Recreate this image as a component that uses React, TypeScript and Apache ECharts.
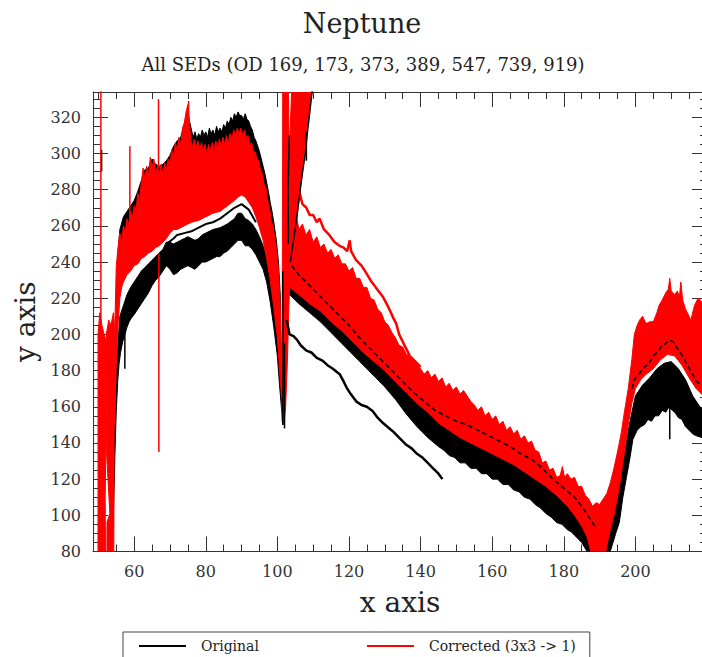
import React, { useEffect, useRef } from "react";
import * as echarts from "echarts";

const TITLE = "Neptune";
const SUBTITLE = "All SEDs (OD 169, 173, 373, 389, 547, 739, 919)";
const NAME_ORIG = "Original";
const NAME_CORR = "Corrected (3x3 -> 1)";
const X_RANGE = [48.5, 220];
const Y_RANGE = [80, 334];
const FONT = "DejaVu Serif";
const BLACK = "#000000";
const RED = "#ff0000";

// ---------- Segment A (blue band, ~50-101) ----------
const redEarly1 = [[49.9,79],[49.9,200],[50.4,212],[51,205],[51.6,200],[52.2,196],[52.1,138],[51.9,110],[52.0,79]];
const redEarly2 = [[52.2,200],[52.2,138],[53.2,101],[52.4,96],[52.4,79],[54.3,79],[54.4,150],[54.6,200],[54.2,212],[53.5,205],[52.9,208]];

const redA_top = [[54.6,205],[55,238],[55.5,248],[56,256],[56.5,251],[57,260],[57.5,257],[58,264],[58.5,261],[59,268],[59.5,265],[60,271],[60.5,268],[61,278],[61.5,275],[62,284],[62.5,292],[63,286],[63.5,293],[64,288],[64.5,298],[65,292],[65.5,297],[66,289],[66.5,293],[67,288],[67.5,294],[68,289],[68.5,295],[69,291],[69.5,297],[70,294],[70.5,302],[71,298],[71.5,306],[72,302],[72.5,309],[73,305],[73.5,314],[74,317],[74.5,323],[75,327],[75.4,319],[75.8,307],[76.3,304],[76.8,308],[77.3,303],[77.8,307],[78.3,302],[78.8,306],[79.3,301],[79.8,305],[80.3,300],[80.8,305],[81.3,302],[81.8,306],[82.3,302],[82.8,307],[83.3,303],[83.8,308],[84.3,304],[84.8,309],[85.3,305],[85.8,310],[86.3,306],[86.8,311],[87.3,308],[87.8,313],[88.3,310],[88.8,314],[89.3,311],[89.8,314],[90.3,310],[90.8,313],[91.3,309],[91.8,310],[92.3,305],[92.8,306],[93.3,301],[93.8,301],[94.3,297],[94.8,296],[95.3,291],[95.8,289],[96.3,283],[96.8,281],[97.3,274],[97.8,270],[98.3,263],[98.8,260],[99.3,253],[99.7,248],[100.3,236],[100.8,215],[101.2,190]];
const redA_bot = [[54.6,150],[55,185],[55.5,205],[56,220],[56.5,226],[57,229],[58,233],[59,235],[60,238],[61,239],[62,242],[63,243],[64,245],[65,246],[66,248],[67,249],[68,251],[69,253],[70,256],[71,258],[72,258],[73,259],[74,260],[75,261],[76,262],[78,263],[80,265],[82,267],[84,268],[86,271],[88,274],[89,276],[90,277],[91,276],[92,273],[93,270],[94,265],[95,259],[96,252],[97,242],[98,230],[99,215],[100,198],[100.6,180],[101.2,165]];

const blackAlow_top = [[54.2,110],[54.6,150],[55,178],[55.5,196],[56,210],[57,216],[58,222],[59,226],[60,229],[61,232],[62,235],[63,237],[64,239],[65,241],[66,243],[67,245],[68,247],[69,251],[70,251],[71,250],[72,251],[73,252],[74,253],[75,254],[76,253],[77,252],[78,253],[79,255],[80,256],[82,258],[84,259],[86,261],[88,264],[89,267],[90,267],[91,264],[92,263],[93,261],[94,258],[95,254],[96,249],[97,243],[98,233],[99,220],[100,204],[100.6,188],[101.2,172]];
const blackAlow_bot = [[53.8,79],[54.2,100],[54.6,132],[55,158],[55.4,174],[55.8,184],[56.2,190],[56.8,196],[57.4,200],[58,204],[58.6,207],[59.2,209],[60,211],[61,214],[62,217],[63,220],[64,223],[65,227],[66,230],[67,232],[68,235],[69,238],[70,236],[71,233],[72,234],[73,236],[74,237],[75,238],[76,237],[77,236],[78,238],[79,240],[80,240],[81,241],[82,242],[83,243],[84,243],[85,245],[86,246],[87,248],[88,250],[89,252],[90,252],[91,249],[92,249],[93,247],[94,244],[95,240],[96,236],[97,229],[98,218],[99,204],[100,188],[100.6,172],[101.2,158],[101.6,150]];
const blackAmid = [[69,250],[71,253],[72,255],[74,256],[76,257],[78,259],[80,261],[82,262],[84,264],[86,267],[88,270],[90,272],[92,269],[94,262]];

const blackAup_top = [[55.5,246],[56,258],[57,265],[58,268],[59,271],[60,274],[61,279],[62,285],[63,291],[64,292],[65,297],[66,294],[67,293],[68,294],[69,296],[70,299],[71,304],[72,307],[73,309],[74,316],[75,322],[76,313],[76.5,309],[77,312],[77.5,308],[78,311],[78.5,309],[79,313],[79.5,310],[80,312],[80.5,309],[81,314],[81.5,311],[82,313],[82.5,310],[83,315],[83.5,312],[84,314],[84.5,312],[85,316],[85.5,314],[86,318],[86.5,316],[87,320],[87.5,318],[88,322],[88.5,320],[89,323],[89.5,321],[90,321],[90.5,319],[91,322],[91.5,319],[92,318],[92.5,315],[93,313],[93.5,309],[94,307],[94.5,304],[95,301],[95.5,297],[96,293],[96.5,289],[97,284],[97.5,279],[98,273],[98.5,268],[99,262],[99.7,252],[100.3,240],[100.8,222]];
const blackAup_bot = [[55.5,230],[60,250],[70,265],[80,280],[90,285],[95,270],[100.8,210]];

// ---------- Segment B (red band, ~101-220) ----------
const redArm = [[101.3,152],[101.4,250],[101.5,345],[103.0,345],[103.3,300],[104.2,345],[110.4,345],[109.6,334],[108.9,322],[108.2,312],[107.4,298],[106.6,283],[105.8,270],[105,258],[104.2,248],[103.6,238],[103.2,215],[102.8,185],[102.3,160],[101.8,150]];

const blackB_top = [[103.4,236],[105,232],[107,227],[110,221],[113,215],[116,209],[119,202],[122,196],[125,190],[128,184],[131,178],[134,172],[137,166],[140,161],[143,157],[146,154],[149,151],[152,149],[155,147],[158,143],[161,140],[164,137],[167,133],[170,130],[173,126],[176,121],[179,116],[182,110],[185,103],[187,96],[189,90],[191,90],[193,98],[195,113],[197,135],[198.5,152],[200,166],[202,172],[204,176],[206,181],[208,184],[210,185],[212,181],[214,175],[216,166],[218,160],[220,157]];
const blackB_bot = [[103.4,222],[106,217],[109,212],[112,207],[115,201],[118,195],[121,189],[124,183],[127,177],[130,171],[133,164],[136,156],[139,149],[142,143],[145,138],[146.5,136],[148,133],[149.5,132],[151,129],[152.5,129],[154,126],[155.5,126],[157,123],[158.5,123],[160,120],[161.5,120],[163,117],[164.5,117],[166,114],[167.5,113],[169,110],[170.5,109],[172,106],[173.5,104],[175,101],[176.5,99],[178,96],[179.5,95],[181,92],[182,91],[183,89],[184,87],[185,85],[186.5,80],[187,79],[192.8,79],[193.6,84],[194.5,90],[195.5,96],[196.5,110],[197.5,121],[198.5,132],[199.3,142],[200.5,147],[201.5,149],[202.5,150],[203.5,153],[204.5,152],[205.5,155],[206.5,155],[207.5,158],[208.5,157],[209.4,160],[210.3,158],[211,157],[212,154],[213,153],[214,149],[215,147],[216,145],[217,144],[218.5,143],[220,142]];

const redB_top = [[103.4,262],[104,270],[104.6,262],[105.3,266],[106,258],[107,261],[108,255],[109,258],[110,251],[111,254],[112,248],[113,250],[114,245],[115,247],[116,242],[117,244],[118,239],[119,239],[120,235],[121,237],[122,231],[123,231],[124,226],[125,226],[126,220],[127,219],[128,214],[129,212],[130,207],[131,205],[132,201],[133,198],[134,194],[135,193],[136,189],[137,188],[138,185],[139,184],[140,181],[141,178],[142,180],[143,176],[144,178],[145,174],[146,176],[147,171],[148,173],[149,169],[150,171],[151,167],[152,169],[153,166],[154,163],[155,161],[156,158],[157,160],[158,155],[159,157],[160,153],[161,155],[162,150],[163,152],[164,147],[165,149],[166,145],[167,147],[168,142],[169,144],[170,140],[171,141],[172,136],[173,135],[174,129],[175,130],[176,125],[177,126],[178,121],[179,122],[179.6,127],[180.2,121],[181,123],[182,120],[183,121],[184,116],[185,116],[186,111],[187,109],[188,105],[189,107],[190,106],[191,109],[192,112],[193,118],[194,126],[195,135],[196,145],[197,158],[198,170],[199,186],[199.7,200],[200.5,205],[201.2,208],[202,210],[203,206],[204,207],[205,207],[206,212],[206.6,216],[207.5,219],[208.5,223],[209.2,225],[209.6,231],[210,224],[211,222],[211.7,224],[212.3,221],[212.7,229],[213.2,219],[214,214],[215,210],[215.5,208],[216.5,216],[217.5,220],[218.5,218],[219.5,221],[220,219]];
const redB_bot = [[103.4,226],[106,222],[109,217],[112,213],[115,207],[118,202],[121,196],[124,190],[127,185],[130,180],[133,174],[136,168],[139,162],[142,157],[145,151],[148,147],[151,143],[154,140],[157,137],[160,134],[163,131],[166,128],[169,124],[172,120],[175,116],[178,111],[181,105],[183,100],[185,94],[186.5,88],[187.5,80],[191.7,80],[192.3,86],[193,92],[194,100],[195,110],[196,122],[197,136],[198,150],[199,162],[200,170],[201.5,175],[203,178],[205,181],[207,186],[209,189],[211,188],[213,183],[215,176],[217,170],[219,166],[220,164]];

const redUpperLine = [[104.5,283],[105.3,277],[106,280],[107,272],[108.1,270],[109,266],[110,266],[111,262],[111.8,264],[113,258],[114.5,255],[116,251],[117.4,249],[118.5,248],[119.5,246],[120.2,252],[120.6,246],[122,241],[123.5,238],[124.8,234],[126,230],[127.5,226],[129.4,221],[130.5,217],[131.5,213],[132.4,209],[133.2,206],[134,200],[135,196],[136,192],[137,188],[138,186],[140,182]];

const blackShortLine = [[102.6,208],[103.4,200],[104.5,199],[105.5,197],[106.5,194],[108.1,191],[109.5,190],[111,187],[112.6,185.5],[114,183],[115.5,181],[117.4,178],[118.5,174],[119.5,170],[120.5,167],[122,163],[123.5,161],[125,160],[126.6,157.7],[128,154],[129.5,151],[131.3,148],[132.5,146],[134,143],[136,139],[137.5,137],[139,134],[140.6,131.8],[142,129],[143.5,126],[145,123],[146.1,120]];
const blackInRedLine = [[104,238],[106,233],[108,229],[111,223],[114,217],[117,211],[120,205],[123,198],[126,192],[129,186],[132,180],[135,174],[138,168],[141,163],[144,158],[147,155],[150,152],[153,150],[156,147],[159,144],[162,141],[165,138],[168,134],[171,131],[174,126],[177,120],[180,115],[183,110],[185,105],[187,99],[189,93]];
const blackPeakLine = [[199,170],[200,176],[201,178],[202,181],[203.8,184],[205,188],[206.5,191],[207.5,194],[208.5,195],[209.4,197],[210.5,196],[211.5,193],[212.2,191],[213.5,187],[214.5,183],[216,178],[217,174],[218.5,172],[220,170]];
const blackArmEdge = [[103.6,240],[104.5,252],[105.5,266],[106.5,282],[107.2,292],[107.8,300],[108.4,312],[109,322],[109.8,336]];
const blackColumnEdge = [[101.5,150],[101.6,190],[101.5,235]];
const blackGapEdge = [[103.1,250],[103.0,280],[103.3,310]];

// spikes: [x, low, high]
const redSpikes = [[50.7,195,340],[58.8,262,304],[66.9,135,245],[66.8,292,330],[75.2,318,329]];
const blackSpikes = [[50.9,290,302],[57.4,181,212],[102,148,195],[108.1,296,312],[209.6,142,160]];

function polySeries(name: string, color: string, pts: number[][], stroke = true) {
  return {
    type: "custom",
    name,
    clip: true,
    silent: true,
    itemStyle: { color },
    encode: { x: 0, y: 1 },
    data: pts,
    renderItem: (params: any, api: any) => {
      if (params.dataIndex !== 0) return null;
      const points = pts.map((p) => api.coord(p));
      return {
        type: "polygon",
        shape: { points },
        style: { fill: color, stroke: stroke ? color : "none", lineWidth: 1 },
      };
    },
  };
}
function band(name: string, color: string, top: number[][], bot: number[][]) {
  return polySeries(name, color, [...top, ...bot.slice().reverse()]);
}
function lineSeries(name: string, color: string, data: number[][], width = 2, dashed = false) {
  return {
    type: "line",
    name,
    data,
    symbol: "none",
    showSymbol: false,
    clip: true,
    silent: true,
    itemStyle: { color },
    lineStyle: { color, width, type: dashed ? [5, 3] : "solid" },
  };
}
function spikeSeries(name: string, color: string, spikes: number[][]) {
  return spikes.map((s) => lineSeries(name, color, [[s[0], s[1]], [s[0], s[2]]], 1.5));
}

const axisColor = "#333333";
const commonX = {
  type: "value",
  min: X_RANGE[0],
  max: X_RANGE[1],
  splitNumber: 8,
  splitLine: { show: false },
  axisLine: { show: true, onZero: false, lineStyle: { color: axisColor, width: 1 } },
  axisTick: { show: true, inside: true, length: 15, lineStyle: { color: axisColor } },
  minorTick: { show: true, splitNumber: 4, length: 7, lineStyle: { color: axisColor } },
};
const commonY = {
  type: "value",
  min: Y_RANGE[0],
  max: Y_RANGE[1],
  interval: 20,
  splitLine: { show: false },
  axisLine: { show: true, onZero: false, lineStyle: { color: axisColor, width: 1 } },
  axisTick: { show: true, inside: true, length: 15, lineStyle: { color: axisColor } },
  minorTick: { show: true, splitNumber: 4, length: 7, lineStyle: { color: axisColor } },
};

export default function App() {
  const ref = useRef<HTMLDivElement>(null);
  useEffect(() => {
    const chart = echarts.init(ref.current!, null, { renderer: "svg" });
    const series: any[] = [
      band(NAME_ORIG, BLACK, blackAlow_top, blackAlow_bot),
      band(NAME_ORIG, BLACK, blackAup_top, blackAup_bot),
      band(NAME_ORIG, BLACK, blackB_top, blackB_bot),
      lineSeries(NAME_ORIG, BLACK, blackAmid, 2),
      polySeries(NAME_CORR, RED, redEarly1),
      polySeries(NAME_CORR, RED, redEarly2),
      band(NAME_CORR, RED, redA_top, redA_bot),
      polySeries(NAME_CORR, RED, redArm),
      band(NAME_CORR, RED, redB_top, redB_bot),
      lineSeries(NAME_CORR, RED, redUpperLine, 2.5),
      lineSeries(NAME_ORIG, BLACK, blackShortLine, 2.5),
      lineSeries(NAME_ORIG, BLACK, blackInRedLine, 1.5, true),
      lineSeries(NAME_ORIG, BLACK, blackPeakLine, 1.5, true),
      lineSeries(NAME_ORIG, BLACK, blackArmEdge, 1.5),
      lineSeries(NAME_ORIG, BLACK, blackColumnEdge, 1.5),
      lineSeries(NAME_ORIG, BLACK, blackGapEdge, 1.5),
      ...spikeSeries(NAME_ORIG, BLACK, blackSpikes),
      ...spikeSeries(NAME_CORR, RED, redSpikes),
    ];
    chart.setOption({
      animation: false,
      backgroundColor: "#ffffff",
      title: [
        {
          text: TITLE,
          left: 357,
          textAlign: "center",
          top: 5,
          textStyle: { fontFamily: FONT, fontSize: 27, fontWeight: "normal", color: "#222" },
        },
        {
          text: SUBTITLE,
          left: 358,
          textAlign: "center",
          top: 50,
          textStyle: { fontFamily: FONT, fontSize: 18, fontWeight: "normal", color: "#222" },
        },
      ],
      grid: { left: 93, top: 92, right: -5, bottom: 105.5, containLabel: false, outerBoundsMode: "none" },
      legend: {
        left: 123,
        top: 632,
        orient: "horizontal",
        selectedMode: false,
        borderColor: "#444",
        borderWidth: 1,
        borderRadius: 0,
        padding: [7, 14, 12, 16],
        itemWidth: 47,
        itemHeight: 2,
        itemGap: 108,
        textStyle: { fontFamily: FONT, fontSize: 14, color: "#222", padding: [0, 0, 0, 10] },
        data: [
          { name: NAME_ORIG, icon: "rect", itemStyle: { color: BLACK } },
          { name: NAME_CORR, icon: "rect", itemStyle: { color: RED } },
        ],
      },
      xAxis: [
        {
          ...commonX,
          position: "bottom",
          axisLabel: { showMinLabel: false, showMaxLabel: false, fontFamily: FONT, fontSize: 16, color: "#333", margin: 12 },
          name: "x axis",
          nameLocation: "middle",
          nameGap: 37,
          nameTextStyle: { fontFamily: FONT, fontSize: 28, color: "#222" },
        },
        { ...commonX, position: "top", axisLabel: { show: false } },
      ],
      yAxis: [
        {
          ...commonY,
          position: "left",
          axisLabel: { showMinLabel: true, showMaxLabel: false, fontFamily: FONT, fontSize: 16, color: "#333", margin: 12 },
          name: "y axis",
          nameLocation: "middle",
          nameGap: 48,
          nameTextStyle: { fontFamily: FONT, fontSize: 28, color: "#222" },
        },
        { ...commonY, position: "right", axisLabel: { show: false } },
      ],
      series,
    });
    return () => chart.dispose();
  }, []);
  return <div ref={ref} style={{ position: "fixed", left: 0, top: 0, width: 702, height: 657 }} />;
}
